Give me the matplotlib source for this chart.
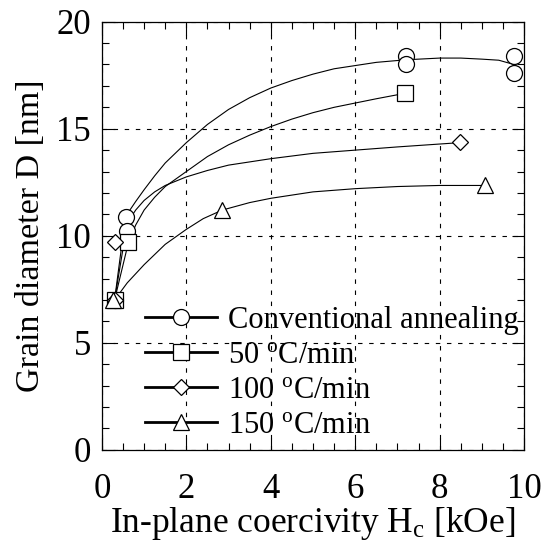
import matplotlib
matplotlib.use('Agg')
import matplotlib.pyplot as plt
from matplotlib.lines import Line2D
from matplotlib.ticker import MultipleLocator

plt.rcParams['font.family'] = ['Liberation Serif', 'DejaVu Serif']
plt.rcParams['mathtext.fontset'] = 'custom'
plt.rcParams['mathtext.rm'] = 'Liberation Serif'
plt.rcParams['mathtext.it'] = 'Liberation Serif:italic'

# measured points (Hc [kOe], D [nm])
conv_x = [0.30, 0.56, 0.60, 7.20, 7.20, 9.76, 9.76]
conv_y = [7.0, 10.9, 10.2, 18.4, 18.0, 18.4, 17.6]
r50_x = [0.30, 0.63, 7.17]
r50_y = [7.0, 9.7, 16.65]
r100_x = [0.30, 0.32, 8.48]
r100_y = [7.0, 9.7, 14.4]
r150_x = [0.27, 2.85, 9.08]
r150_y = [7.0, 11.2, 12.35]

# guide curves
conv_cx = [0.30, 0.56, 0.8, 1.0, 1.25, 1.5, 2.0, 2.5, 3.0, 3.5, 4.0, 4.5, 5.0,
           5.5, 6.0, 6.5, 7.2, 8.0, 8.5, 9.0, 9.4, 9.76]
conv_cy = [7.0, 10.9, 11.6, 12.15, 12.8, 13.4, 14.35, 15.2, 15.9, 16.45, 16.9,
           17.25, 17.55, 17.8, 17.95, 18.1, 18.22, 18.3, 18.3, 18.25, 18.2, 18.0]
r50_cx = [0.30, 0.63, 0.8, 1.0, 1.25, 1.5, 2.0, 2.5, 3.0, 3.5, 4.0, 4.5, 5.0,
          5.5, 6.0, 6.5, 7.17]
r50_cy = [7.0, 9.7, 10.5, 11.2, 11.8, 12.3, 13.0, 13.7, 14.25, 14.7, 15.1,
          15.45, 15.75, 16.0, 16.2, 16.4, 16.65]
r100_cx = [0.30, 0.60, 0.8, 1.0, 1.25, 1.5, 2.0, 2.5, 3.0, 4.0, 5.0, 6.0, 7.0,
           8.48]
r100_cy = [7.0, 10.6, 11.2, 11.65, 12.05, 12.35, 12.75, 13.05, 13.3, 13.6,
           13.85, 14.0, 14.15, 14.35]
r150_cx = [0.30, 0.6, 1.0, 1.5, 2.0, 2.4, 2.85, 3.5, 4.0, 5.0, 6.0, 7.0, 8.0,
           9.08]
r150_cy = [7.0, 7.8, 8.65, 9.6, 10.3, 10.8, 11.2, 11.55, 11.75, 12.05, 12.2,
           12.3, 12.35, 12.35]

labels = ['Conventional annealing', r'50 $^{\rm o}$C/min',
          r'100 $^{\rm o}$C/min', r'150 $^{\rm o}$C/min']
markers = ['o', 's', 'D', '^']
msizes = [11.5, 11, 8.5, 11.5]

fig = plt.figure(figsize=(5.42, 5.42), dpi=100)
ax = fig.add_axes([0.188, 0.170, 0.779, 0.790])

curves = [(conv_cx, conv_cy), (r50_cx, r50_cy), (r100_cx, r100_cy), (r150_cx, r150_cy)]
for cx, cy in curves:
    ax.plot(cx, cy, color='k', lw=0.8, zorder=2)

points = [(conv_x, conv_y), (r50_x, r50_y), (r100_x, r100_y), (r150_x, r150_y)]
for (px, py), m, ms in zip(points, markers, msizes):
    ax.plot(px, py, ls='none', marker=m, ms=ms, mfc='white', mec='k',
            mew=0.9, zorder=3)

ax.set_xlim(0, 10)
ax.set_ylim(0, 20)
ax.xaxis.set_major_locator(MultipleLocator(2))
ax.xaxis.set_minor_locator(MultipleLocator(0.5))
ax.yaxis.set_major_locator(MultipleLocator(5))
ax.yaxis.set_minor_locator(MultipleLocator(1))
ax.tick_params(which='both', direction='in', top=True, right=True, width=0.8)
ax.tick_params(which='major', length=9)
ax.tick_params(which='minor', length=5)
ax.tick_params(axis='x', labelsize=25, pad=17)
ax.tick_params(axis='y', labelsize=25, pad=8)
ax.grid(True, which='major', color='k', ls=(0, (4, 6)), lw=0.8)
for s in ax.spines.values():
    s.set_linewidth(0.9)

ax.set_xlabel(r'In-plane coercivity H$_{\rm c}$ [kOe]', fontsize=25.5, labelpad=-1)
ax.set_ylabel('Grain diameter D [nm]', fontsize=24.5, labelpad=7)

handles = [Line2D([], [], color='k', lw=2, marker=m, ms=ms, mfc='white',
                  mec='k', mew=0.9) for m, ms in zip(markers, msizes)]
leg = ax.legend(handles, labels, loc='lower left', bbox_to_anchor=(0.056, -0.023),
                frameon=False, fontsize=22, handlelength=2.35,
                handletextpad=0.36, labelspacing=0.2, borderaxespad=0.25)

fig.savefig('out.png', dpi=100)
